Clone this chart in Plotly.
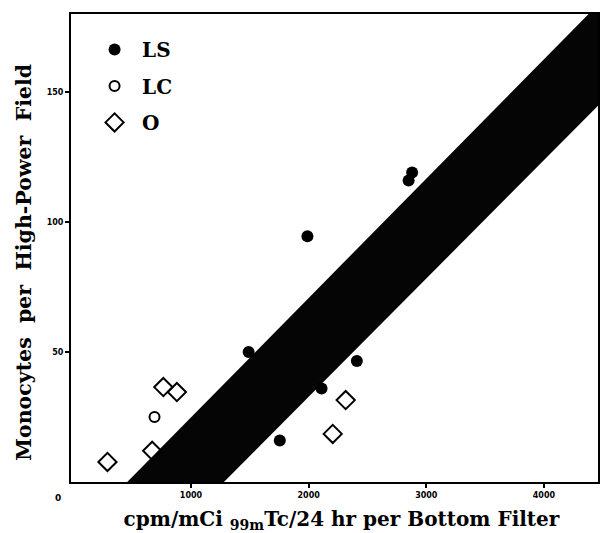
import plotly.graph_objects as go

# Data
ls_x = [1490, 1990, 2850, 2880, 2410, 2110, 1755]
ls_y = [50, 94.5, 116, 119, 46.5, 36, 16]

lc_x = [690]
lc_y = [25]

o_x = [290, 670, 765, 880, 2315, 2205]
o_y = [7.7, 12, 36.5, 34.6, 31.5, 18.5]

# shaded band (parallelogram) vertices
band_x = [458, 1280, 4500, 4500]
band_y = [0, 0, 146.5, 185.5]

x_ticks = [1000, 2000, 3000, 4000]
y_ticks = [50, 100, 150]

SERIF = "DejaVu Serif"
SP = "&nbsp; "

fig = go.Figure()
fig.add_trace(go.Scatter(
    x=band_x + [band_x[0]], y=band_y + [band_y[0]], mode="lines",
    fill="toself", fillcolor="#050505", line=dict(color="#050505", width=0),
    showlegend=False, hoverinfo="skip"))

fig.add_trace(go.Scatter(
    x=ls_x, y=ls_y, mode="markers", name="LS", legendgroup="a",
    marker=dict(symbol="circle", size=12, color="black",
                line=dict(color="black", width=0))))
fig.add_trace(go.Scatter(
    x=lc_x, y=lc_y, mode="markers", name="LC", legendgroup="b",
    marker=dict(symbol="circle-open", size=10, color="black",
                line=dict(color="black", width=2))))
fig.add_trace(go.Scatter(
    x=o_x, y=o_y, mode="markers", name="O", legendgroup="c",
    marker=dict(symbol="diamond-open", size=14, color="black",
                line=dict(color="black", width=2))))

fig.update_layout(
    width=605, height=533,
    margin=dict(l=71, r=5, t=14, b=51),
    paper_bgcolor="white", plot_bgcolor="white",
    font=dict(family=SERIF, color="black"),
    legend=dict(x=0.0305, y=0.966, xanchor="left", yanchor="top",
                font=dict(family=SERIF, size=20, color="black", weight="bold"),
                bgcolor="rgba(0,0,0,0)", itemwidth=45, tracegroupgap=7.5),
    xaxis=dict(range=[-20, 4460], tickvals=x_ticks,
               ticktext=[str(v) for v in x_ticks],
               showgrid=False, zeroline=False,
               showline=True, linecolor="black", linewidth=2, mirror=True,
               ticks="outside", ticklen=4, tickwidth=2, tickcolor="black",
               tickfont=dict(family="DejaVu Sans", size=8, color="black", weight="bold"),
               layer="below traces",
               title=dict(text="&nbsp;&nbsp;cpm/mCi <sub>99m</sub>Tc/24 hr per Bottom Filter",
                          font=dict(family=SERIF, size=20, color="black", weight="bold"),
                          standoff=13)),
    yaxis=dict(range=[0, 180], tickvals=y_ticks,
               ticktext=[str(v) for v in y_ticks],
               showgrid=False, zeroline=False,
               showline=True, linecolor="black", linewidth=2, mirror=True,
               ticks="outside", ticklen=4, tickwidth=2, tickcolor="black",
               tickfont=dict(family="DejaVu Sans", size=8, color="black", weight="bold"),
               layer="below traces",
               title=dict(text="Monocytes" + SP + "per" + SP + "High-Power" + SP + "Field"
                               + "&nbsp;&nbsp;&nbsp;&nbsp;",
                          font=dict(family=SERIF, size=20.5, color="black", weight="bold"),
                          standoff=10)),
)

fig.add_annotation(text="0", xref="paper", yref="paper", x=-0.035, y=-0.05,
                   showarrow=False,
                   font=dict(family="DejaVu Sans", size=9, color="black", weight="bold"))

fig.write_html("out.html")
